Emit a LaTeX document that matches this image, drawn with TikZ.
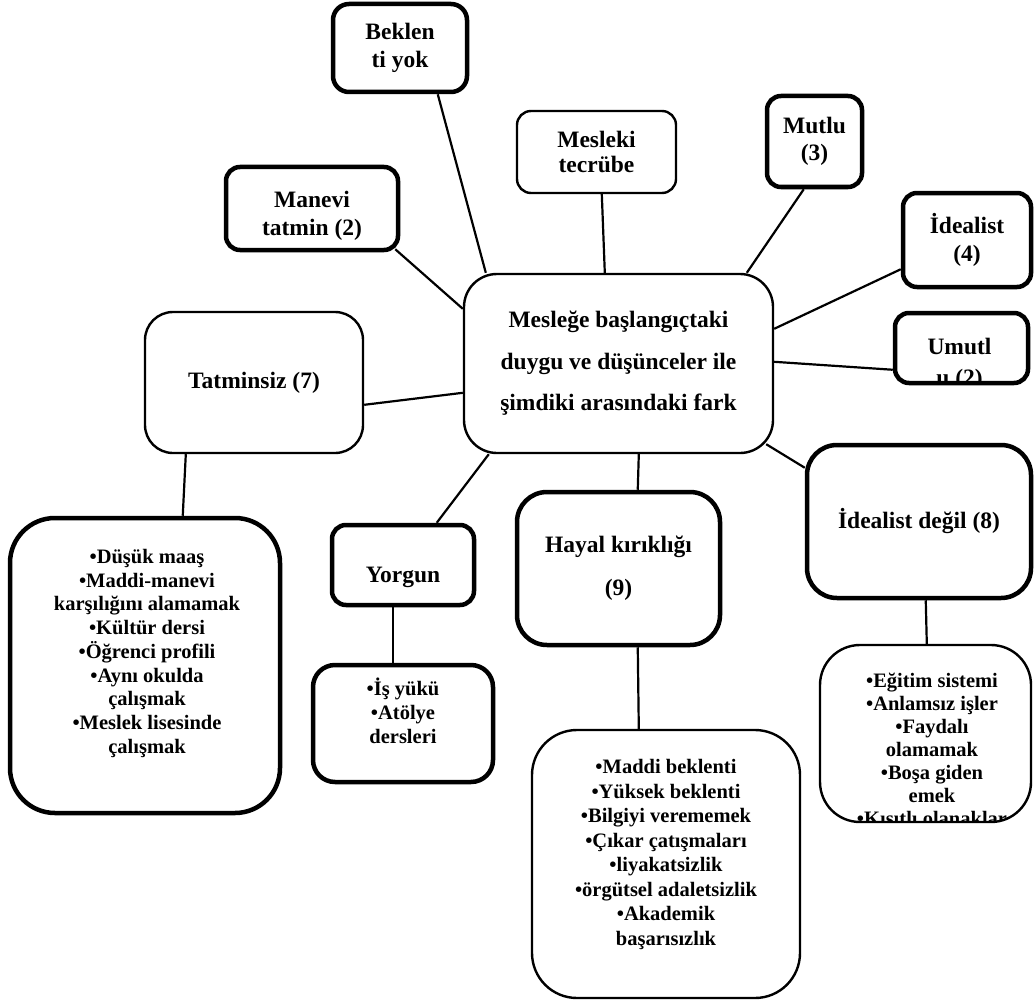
\documentclass[tikz,border=0pt]{standalone}
\usepackage{fontspec}
\setmainfont{Liberation Serif}
\usetikzlibrary{calc}
\begin{document}
\begin{tikzpicture}[x=1pt,y=-1pt,
  conn/.style={line width=2.2pt},
  heavy/.style={draw, line width=4.5pt, fill=white, inner sep=0pt, rounded corners=#1},
  light/.style={draw, line width=2.4pt, fill=white, inner sep=0pt, rounded corners=#1},
  lbl/.style={font=\fontsize{23.5}{27.5}\selectfont\bfseries, align=center, inner sep=0pt},
  lst/.style={font=\fontsize{20.5}{23.75}\selectfont\bfseries, align=center, inner sep=0pt},
]
\useasboundingbox (0,0) rectangle (1035,1003);

% upper ring of labels
\node[heavy=16, minimum width=134, minimum height=88, lbl] (bek) at (400,48) {Beklen\\ti yok};
\node[light=14, minimum width=159, minimum height=82, lbl, font=\fontsize{23.5}{25}\selectfont\bfseries] (mes) at (596.5,152) {Mesleki\\tecrübe};
\node[heavy=14, minimum width=95, minimum height=91, lbl] (mut) at (814.5,141.5) {Mutlu\\(3)};
\node[heavy=14, minimum width=172, minimum height=83] (man) at (312,208.5) {};
\node[lbl] (mant) at (312,216) {Manevi\\tatmin (2)};
\node[heavy=14, minimum width=128, minimum height=94, lbl] (ide) at (967,240) {İdealist\\(4)};
\node[heavy=14, minimum width=133, minimum height=70,
  path picture={\node[lbl, font=\fontsize{23.5}{31}\selectfont\bfseries] (umut)
    at ($(path picture bounding box.center)+(-2,16.6)$) {Umutl\\u (2)};}] (umu) at (961.5,348) {};

% central box
\node[light=33, minimum width=309, minimum height=179, align=center, inner sep=0pt,
  font=\fontsize{23.5}{41.5}\selectfont\bfseries] (cen) at (618.5,363.5)
  {Mesleğe başlangıçtaki\\duygu ve düşünceler ile\\şimdiki arasındaki fark};

% lower ring of labels
\node[light=28, minimum width=218, minimum height=141, lbl] (tat) at (254,382.5) {Tatminsiz (7)};
\node[heavy=14, minimum width=142, minimum height=80] (yor) at (403,565) {};
\node[lbl] (yort) at (403,577.5) {Yorgun};
\node[heavy=30, minimum width=203, minimum height=153, lbl, font=\fontsize{23.5}{43}\selectfont\bfseries] (hay) at (618.5,568.5) {Hayal kırıklığı\\(9)};
\node[heavy=30, minimum width=224, minimum height=153, lbl] (idd) at (919,521.5) {İdealist değil (8)};

% detail boxes
\node[heavy=45, minimum width=270, minimum height=295] (sad) at (145,665.5) {};
\node[lst] (sadt) at (147,653.3) {•Düşük maaş\\•Maddi-manevi\\karşılığını alamamak\\•Kültür dersi\\•Öğrenci profili\\•Aynı okulda\\çalışmak\\•Meslek lisesinde\\çalışmak};
\node[heavy=22, minimum width=180, minimum height=117] (isy) at (403,723.5) {};
\node[lst] (isyt) at (403,711) {•İş yükü\\•Atölye\\dersleri};
\node[light=45, minimum width=268, minimum height=268] (hls) at (666,864) {};
\node[lst, font=\fontsize{20.5}{24.5}\selectfont\bfseries] (hlst) at (666,854.3) {•Maddi beklenti\\•Yüksek beklenti\\•Bilgiyi verememek\\•Çıkar çatışmaları\\•liyakatsizlik\\•örgütsel adaletsizlik\\•Akademik\\başarısızlık};
\node[light=40, minimum width=211, minimum height=177,
  path picture={\node[lst, font=\fontsize{20.5}{23}\selectfont\bfseries] (ilst)
    at ($(path picture bounding box.center)+(6.5,15.5)$) {•Eğitim sistemi\\•Anlamsız işler\\•Faydalı\\olamamak\\•Boşa giden\\emek\\•Kısıtlı olanaklar};}] (ils) at (925.5,733.5) {};

% connectors
\draw[conn] ($(bek.south west)+(107,0)$) -- ($(cen.north west)+(23,0)$);
\draw[conn] ($(mes.south west)+(86,0)$) -- ($(cen.north west)+(142,0)$);
\draw[conn] ($(mut.south west)+(39,0)$) -- ($(cen.north west)+(284,0)$);
\draw[conn] ($(man.south east)+(-5,-3)$) -- ($(cen.north west)+(0,36)$);
\draw[conn] ($(ide.south west)+(0,-20)$) -- ($(cen.north east)+(0,56)$);
\draw[conn] ($(umu.north west)+(0,59)$) -- ($(cen.north east)+(0,89)$);
\draw[conn] ($(tat.north east)+(0,94)$) -- ($(cen.north west)+(0,120)$);
\draw[conn] ($(cen.south west)+(26,0)$) -- ($(yor.north west)+(107,0)$);
\draw[conn] ($(cen.south west)+(176,0)$) -- ($(hay.north west)+(123,0)$);
\draw[conn] ($(cen.south east)+(-8,-10)$) -- ($(idd.north west)+(0,25)$);
\draw[conn] ($(tat.south west)+(42,0)$) -- ($(sad.north west)+(175,0)$);
\draw[conn] ($(yor.south west)+(63,0)$) -- ($(isy.north west)+(82,0)$);
\draw[conn] ($(hay.south west)+(123,0)$) -- ($(hls.north west)+(108,0)$);
\draw[conn] ($(idd.south west)+(121,0)$) -- ($(ils.north west)+(108,0)$);
\end{tikzpicture}
\end{document}
